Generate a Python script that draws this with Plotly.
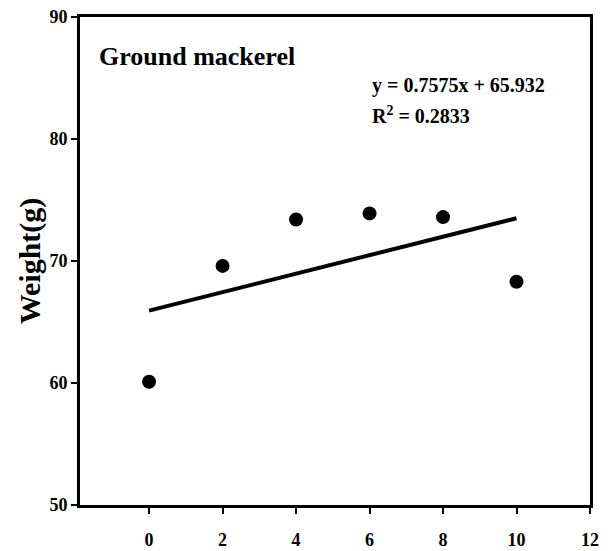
import plotly.graph_objects as go

x_vals = [0, 2, 4, 6, 8, 10]
weights = [60.1, 69.6, 73.4, 73.9, 73.6, 68.3]
slope = 0.7575
intercept = 65.932
x_ticks = [0, 2, 4, 6, 8, 10, 12]
y_ticks = [50, 60, 70, 80, 90]

fit_x = [0, 10]
fit_y = [intercept + slope * v for v in fit_x]

font = "Liberation Serif"

fig = go.Figure()
fig.add_trace(go.Scatter(x=fit_x, y=fit_y, mode="lines",
                         line=dict(color="black", width=4), showlegend=False))
fig.add_trace(go.Scatter(x=x_vals, y=weights, mode="markers",
                         marker=dict(color="black", size=14), showlegend=False))

fig.add_annotation(x=-1.42, y=86.8, xref="x", yref="y", xanchor="left", yanchor="middle",
                   text="<b>Ground mackerel</b>", showarrow=False,
                   font=dict(family=font, size=26, color="black"))
fig.add_annotation(x=6.0, y=84.4, xref="x", yref="y", xanchor="left", yanchor="middle",
                   text="<b>y = 0.7575x + 65.932</b>", showarrow=False,
                   font=dict(family=font, size=20, color="black"))
fig.add_annotation(x=6.0, y=82.0, xref="x", yref="y", xanchor="left", yanchor="middle",
                   text="<b>R<sup>2</sup> = 0.2833</b>", showarrow=False,
                   font=dict(family=font, size=20, color="black"))

axis_common = dict(showline=True, linecolor="black", linewidth=3, mirror=True,
                   ticks="outside", ticklen=6, tickwidth=2, tickcolor="black",
                   showgrid=False, zeroline=False, automargin=False,
                   tickfont=dict(family=font, size=18, color="black"))

fig.update_xaxes(range=[-1.88, 12], tickvals=x_ticks,
                 ticktext=[f"<b>{v}</b>" for v in x_ticks],
                 ticklabelstandoff=10, **axis_common)
fig.update_yaxes(range=[50, 90], tickvals=y_ticks,
                 ticktext=[f"<b>{v}</b>" for v in y_ticks],
                 title=dict(text="<b>Weight(g)</b>", font=dict(family=font, size=30, color="black"),
                            standoff=0),
                 **axis_common)

fig.update_layout(width=611, height=551, plot_bgcolor="white", paper_bgcolor="white",
                  margin=dict(l=80, r=21, t=17, b=46))

fig.write_html("out.html")
